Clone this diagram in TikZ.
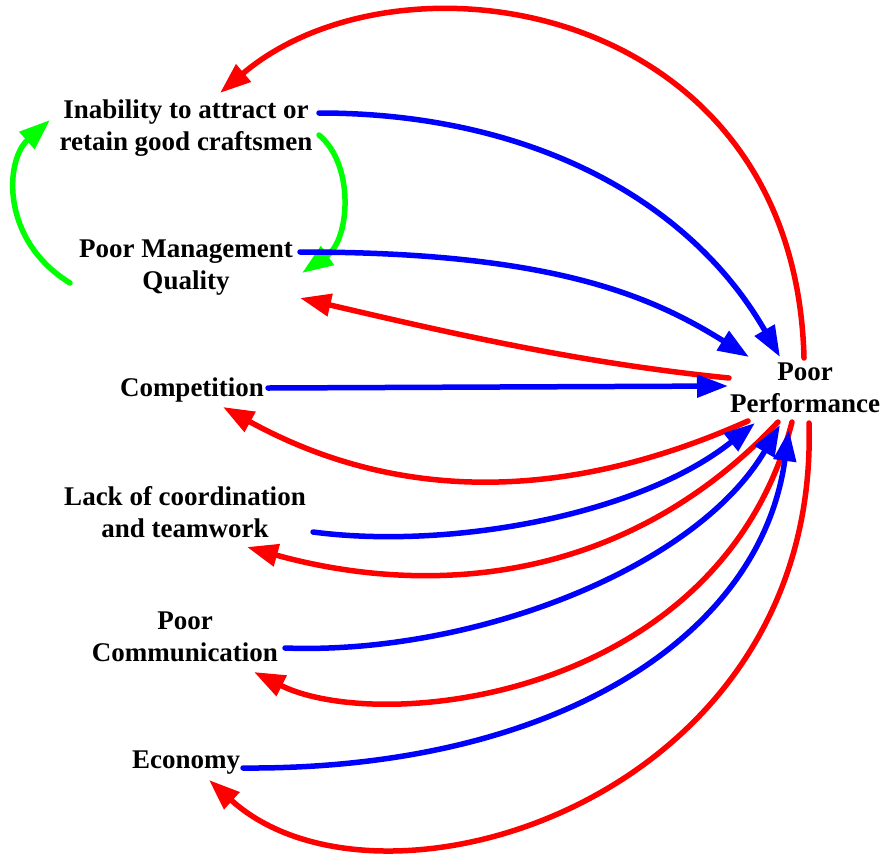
\documentclass[tikz,border=0pt]{standalone}
\usepackage{fontspec}
\setmainfont{Liberation Serif}
\usetikzlibrary{arrows.meta}
\definecolor{cred}{RGB}{255,0,0}
\definecolor{cblue}{RGB}{0,0,255}
\definecolor{cgreen}{RGB}{0,255,0}
\tikzset{
  var/.style={align=center, inner sep=0pt, font=\bfseries\fontsize{27}{32}\selectfont},
  cldlink/.style={line width=5.5pt, line cap=round, -{Triangle[length=31pt,width=22pt]}},
  poslink/.style={cldlink, draw=cblue},
  neglink/.style={cldlink, draw=cred},
  looplink/.style={cldlink, draw=cgreen}
}
\begin{document}
\begin{tikzpicture}[x=1pt,y=-1pt]
\path[use as bounding box] (0,0) rectangle (882,854);
\node[var] (inab) at (186,128) {Inability to attract or\\retain good craftsmen};
\node[var] (pmq)  at (186,268) {Poor Management\\Quality};
\node[var] (comp) at (192,390) {Competition};
\node[var] (lack) at (185,512) {Lack of coordination\\and teamwork};
\node[var] (comm) at (185,637) {Poor\\Communication};
\node[var] (econ) at (186,763) {Economy};
\node[var] (pp)   at (805,388) {Poor\\Performance};

% feedback from performance to inability
\draw[neglink] ([shift={(-1,-30)}]pp.center) .. controls +(-9,-358) and +(180,-153) .. ([shift={(34,-35)}]inab.center);
% inability -> performance
\draw[poslink] ([shift={(133,-15)}]inab.center) .. controls +(211,0) and +(-90,-157) .. ([shift={(-25,-31)}]pp.center);
% green loop
\draw[looplink] ([shift={(133,7)}]inab.center) .. controls +(36,30) and +(48,-33) .. ([shift={(116,5)}]pmq.center);
\draw[looplink] ([shift={(-116,15)}]pmq.center) .. controls +(-70,-43) and +(-45,40) .. ([shift={(-136,-8)}]inab.center);
% management quality
\draw[poslink] ([shift={(114,-16)}]pmq.center) .. controls +(250,0) and +(-99,-62) .. ([shift={(-56,-31)}]pp.center);
\draw[neglink] ([shift={(-76,-10)}]pp.center) .. controls +(-150,-15) and +(150,35) .. ([shift={(114,30)}]pmq.center);
% competition
\draw[poslink] ([shift={(76,-2)}]comp.center) -- ([shift={(-77,-2)}]pp.center);
\draw[neglink] ([shift={(-57,33)}]pp.center) .. controls +(-188,84) and +(169,93) .. ([shift={(31,17)}]comp.center);
% coordination
\draw[poslink] ([shift={(128,20)}]lack.center) .. controls +(137,18) and +(-115,92) .. ([shift={(-50,35)}]pp.center);
\draw[neglink] ([shift={(-27,34)}]pp.center) .. controls +(-158,168) and +(173,48) .. ([shift={(62,35)}]lack.center);
% communication
\draw[poslink] ([shift={(100,11)}]comm.center) .. controls +(185,7) and +(-85,145) .. ([shift={(-25,37)}]pp.center);
\draw[neglink] ([shift={(-13,34)}]pp.center) .. controls +(-72,278) and +(126,63) .. ([shift={(69,35)}]comm.center);
% economy
\draw[poslink] ([shift={(57,5)}]econ.center) .. controls +(307,2) and +(-29,210) .. ([shift={(-16,42)}]pp.center);
\draw[neglink] ([shift={(4,35)}]pp.center) .. controls +(11,377) and +(171,155) .. ([shift={(23,17)}]econ.center);
\end{tikzpicture}
\end{document}
